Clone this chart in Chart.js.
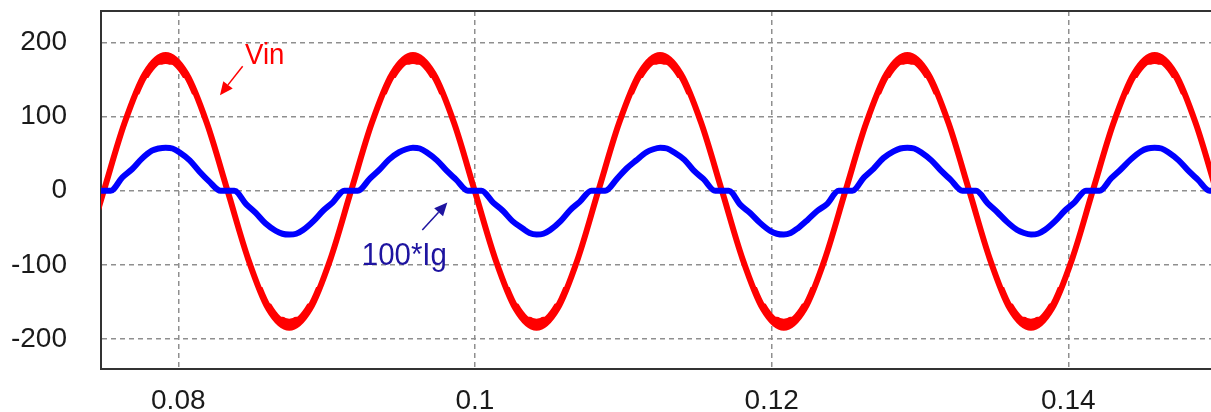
<!DOCTYPE html>
<html>
<head>
<meta charset="utf-8">
<script src="https://cdn.jsdelivr.net/npm/chart.js@4/dist/chart.umd.min.js"></script>
<style>
  body { margin: 0; background: #fff; }
  #wrap { width: 1211px; height: 412px; position: relative; }
</style>
</head>
<body>
<div id="wrap"><canvas id="line-chart"></canvas></div>
<script>
// time (s) and values
const vinTime = [0.07359, 0.07498, 0.07637, 0.07776,
    0.07915, 0.08054, 0.08193, 0.08332, 0.08471, 0.08609, 0.08748, 0.08887, 0.09026, 0.09165, 0.09304, 0.09443,
    0.09582, 0.09721, 0.09860, 0.09998, 0.10137, 0.10276, 0.10415, 0.10554, 0.10693, 0.10832, 0.10971, 0.11110,
    0.11248, 0.11387, 0.11526, 0.11665, 0.11804, 0.11943, 0.12082, 0.12221, 0.12359, 0.12498, 0.12637, 0.12776,
    0.12915, 0.13054, 0.13193, 0.13332, 0.13471, 0.13609, 0.13748, 0.13887, 0.14026, 0.14165, 0.14304, 0.14443,
    0.14582, 0.14721, 0.14859, 0.14998, 0.15137];
const vinValues = [-92, 0, 91, 158,
    183, 158, 91, 0, -92, -160, -185, -160, -92, 0, 91, 158,
    183, 158, 91, 0, -92, -160, -185, -160, -92, 0, 91, 158,
    183, 158, 91, 0, -92, -160, -185, -160, -92, 0, 91, 158,
    183, 158, 91, 0, -92, -160, -185, -160, -92, 0, 91, 158,
    183, 158, 91, 0, -92];

const igTime = [0.07373, 0.07452,
    0.07544, 0.07623, 0.07688, 0.07753, 0.07822, 0.07868, 0.07915, 0.07961, 0.08007, 0.08077, 0.08142, 0.08206, 0.08285,
    0.08378, 0.08457, 0.08522, 0.08587, 0.08656, 0.08702, 0.08749, 0.08795, 0.08841, 0.08911, 0.08976, 0.09040, 0.09119,
    0.09211, 0.09290, 0.09355, 0.09420, 0.09489, 0.09535, 0.09582, 0.09628, 0.09674, 0.09744, 0.09809, 0.09873, 0.09952,
    0.10044, 0.10123, 0.10188, 0.10253, 0.10322, 0.10368, 0.10415, 0.10461, 0.10507, 0.10577, 0.10642, 0.10706, 0.10785,
    0.10878, 0.10957, 0.11022, 0.11087, 0.11156, 0.11202, 0.11249, 0.11295, 0.11341, 0.11411, 0.11476, 0.11540, 0.11619,
    0.11711, 0.11790, 0.11855, 0.11920, 0.11989, 0.12035, 0.12082, 0.12128, 0.12174, 0.12244, 0.12309, 0.12373, 0.12452,
    0.12544, 0.12623, 0.12688, 0.12753, 0.12822, 0.12868, 0.12915, 0.12961, 0.13007, 0.13077, 0.13142, 0.13206, 0.13285,
    0.13378, 0.13457, 0.13522, 0.13587, 0.13656, 0.13702, 0.13749, 0.13795, 0.13841, 0.13911, 0.13976, 0.14040, 0.14119,
    0.14211, 0.14290, 0.14355, 0.14420, 0.14489, 0.14535, 0.14582, 0.14628, 0.14674, 0.14744, 0.14809, 0.14873, 0.14952,
    0.15044, 0.15123];
const igValues = [-17, 0,
    0, 18, 29, 43, 54, 57, 58, 57, 52, 41, 26, 13, 0,
    0, -18, -30, -44, -54, -58, -59, -58, -53, -41, -27, -16, 0,
    0, 16, 28, 42, 52, 56, 58, 57, 52, 41, 27, 15, 0,
    0, -16, -27, -41, -51, -57, -59, -58, -53, -41, -26, -15, 0,
    0, 16, 30, 41, 52, 56, 58, 57, 52, 42, 27, 16, 0,
    0, -19, -30, -43, -54, -58, -59, -57, -51, -39, -27, -18, 0,
    0, 18, 30, 44, 53, 57, 58, 57, 52, 41, 27, 15, 0,
    0, -17, -29, -42, -53, -57, -59, -58, -53, -41, -27, -16, 0,
    0, 17, 29, 42, 53, 57, 58, 57, 52, 41, 27, 15, 0,
    0, -17];

const xTicks = [0.08, 0.1, 0.12, 0.14];
const xTickLabels = ["0.08", "0.1", "0.12", "0.14"];
const yTicks = [-200, -100, 0, 100, 200];

// text labels with arrows, placed in data units
const notes = [
    { text: "Vin", color: "#ff0000", x: 0.08450, y: 171, size: 30, from: [0.08434, 168], to: [0.08281, 129] },
    { text: "100*Ig", color: "#1e14a0", x: 0.09237, y: -100, size: 32, from: [0.09645, -53], to: [0.09814, -16] }
];

function toPoints(times, values) {
    return times.map(function (t, i) { return { x: t, y: values[i] }; });
}

// the Vin trace gets fatter at the crests (switching ripple):
// restroke it a few px toward zero, only inside bands near the crests
const crestRipple = {
    id: "crestRipple",
    afterDatasetDraw: function (chart, args) {
        if (chart.data.datasets[args.index].label !== "Vin") return;
        const ctx = chart.ctx;
        const area = chart.chartArea;
        const ys = chart.scales.y;
        const line = args.meta.dataset;
        const steps = [[130, 2], [152, 4], [170, 6]];
        steps.forEach(function (s) {
            const topBand = ys.getPixelForValue(s[0]);
            const botBand = ys.getPixelForValue(-s[0]);
            ctx.save();
            ctx.beginPath();
            ctx.rect(area.left, area.top, area.width, topBand - area.top);
            ctx.clip();
            ctx.translate(0, s[1]);
            line.draw(ctx, area);
            ctx.restore();
            ctx.save();
            ctx.beginPath();
            ctx.rect(area.left, botBand, area.width, area.bottom - botBand);
            ctx.clip();
            ctx.translate(0, -s[1]);
            line.draw(ctx, area);
            ctx.restore();
        });
    }
};

const frameAndNotes = {
    id: "frameAndNotes",
    afterDraw: function (chart) {
        const ctx = chart.ctx;
        const area = chart.chartArea;
        const xs = chart.scales.x;
        const ys = chart.scales.y;
        ctx.save();
        // top edge of the frame
        ctx.strokeStyle = "#333";
        ctx.lineWidth = 2;
        ctx.beginPath();
        ctx.moveTo(area.left - 1, area.top);
        ctx.lineTo(area.right, area.top);
        ctx.stroke();

        notes.forEach(function (n) {
            const tx = xs.getPixelForValue(n.x);
            const ty = ys.getPixelForValue(n.y);
            ctx.save();
            ctx.fillStyle = n.color;
            ctx.font = n.size + "px 'Liberation Sans', Arial, sans-serif";
            ctx.textBaseline = "alphabetic";
            ctx.translate(tx, ty);
            ctx.scale(0.92, 1);
            ctx.fillText(n.text, 0, 0);
            ctx.restore();

            const x1 = xs.getPixelForValue(n.from[0]), y1 = ys.getPixelForValue(n.from[1]);
            const x2 = xs.getPixelForValue(n.to[0]), y2 = ys.getPixelForValue(n.to[1]);
            const ang = Math.atan2(y2 - y1, x2 - x1);
            const len = 13, half = 6;
            const bx = x2 - len * Math.cos(ang), by = y2 - len * Math.sin(ang);
            ctx.strokeStyle = n.color;
            ctx.fillStyle = n.color;
            ctx.lineWidth = 1.5;
            ctx.beginPath();
            ctx.moveTo(x1, y1);
            ctx.lineTo(bx, by);
            ctx.stroke();
            ctx.beginPath();
            ctx.moveTo(x2, y2);
            ctx.lineTo(bx + half * Math.sin(ang), by - half * Math.cos(ang));
            ctx.lineTo(bx - half * Math.sin(ang), by + half * Math.cos(ang));
            ctx.closePath();
            ctx.fill();
        });
        ctx.restore();
    }
};

const tickFont = { family: "'Liberation Sans', Arial, sans-serif", size: 28 };

const config = {
    type: "line",
    data: {
        datasets: [{
            label: "100*Ig",
            data: toPoints(igTime, igValues),
            borderColor: "#0000ff",
            borderWidth: 6,
            pointRadius: 0,
            cubicInterpolationMode: "monotone",
            order: 0
        }, {
            label: "Vin",
            data: toPoints(vinTime, vinValues),
            borderColor: "#ff0000",
            borderWidth: 6,
            pointRadius: 0,
            cubicInterpolationMode: "monotone",
            order: 1
        }]
    },
    options: {
        responsive: true,
        maintainAspectRatio: false,
        animation: false,
        layout: { padding: { top: 11, right: 0, bottom: 0, left: 0 } },
        plugins: { legend: { display: false }, tooltip: { enabled: false } },
        scales: {
            x: {
                type: "linear",
                min: 0.07479,
                max: 0.14962,
                afterBuildTicks: function (scale) {
                    scale.ticks = xTicks.map(function (v) { return { value: v }; });
                },
                afterFit: function (scale) {
                    scale.height = 43;
                    scale.paddingLeft = 0;
                    scale.paddingRight = 0;
                },
                ticks: {
                    color: "#1a1a1a",
                    font: tickFont,
                    padding: 15,
                    maxRotation: 0,
                    callback: function (v) { return xTickLabels[xTicks.indexOf(v)]; }
                },
                grid: { color: "#8f8f8f", lineWidth: 1.5, drawTicks: false },
                border: { display: true, color: "#333", width: 2, dash: [5, 4] }
            },
            y: {
                min: -240.5,
                max: 242.5,
                afterBuildTicks: function (scale) {
                    scale.ticks = yTicks.map(function (v) { return { value: v }; });
                },
                afterFit: function (scale) {
                    scale.width = 101;
                    scale.paddingTop = 0;
                    scale.paddingBottom = 0;
                },
                ticks: {
                    color: "#1a1a1a",
                    font: tickFont,
                    padding: 34,
                    callback: function (v) { return String(v); }
                },
                grid: { color: "#8f8f8f", lineWidth: 1.5, drawTicks: false },
                border: { display: true, color: "#333", width: 2, dash: [5, 4] }
            }
        }
    },
    plugins: [crestRipple, frameAndNotes]
};

const lineChart = new Chart(document.getElementById("line-chart"), config);
</script>
</body>
</html>
